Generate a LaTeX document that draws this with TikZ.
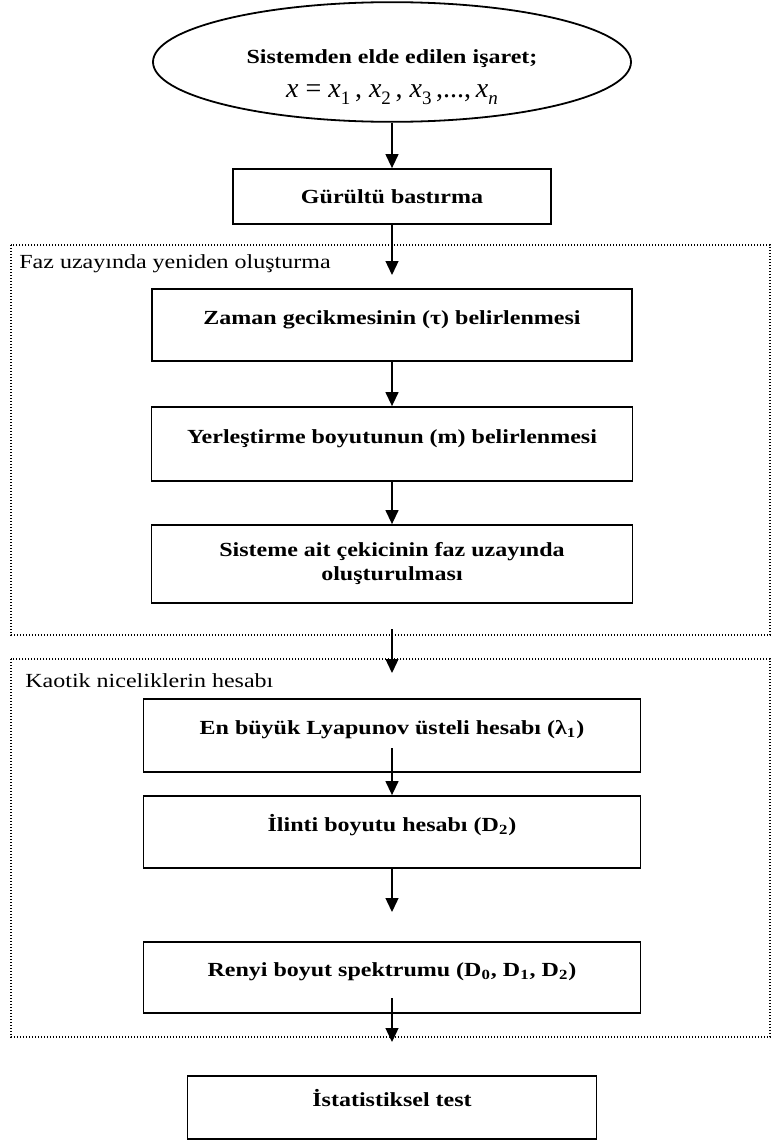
\documentclass[tikz,border=0pt]{standalone}
\usepackage{fontspec}
\setmainfont{Liberation Serif}[FakeStretch=1.2]
\newfontfamily\eqfont{Liberation Serif}
\usetikzlibrary{shapes.geometric,arrows.meta}

\newcommand{\xsub}[1]{\textit{x}\raisebox{-0.5ex}{\fontsize{9.5}{9.5}\selectfont #1}}

\begin{document}
\begin{tikzpicture}[x=0.5pt,y=-0.5pt,
    box/.style={draw, line width=0.9pt, font=\bfseries, inner sep=0pt},
    oneline/.style={text height=9pt, text depth=10pt},
    frame/.style={line width=0.7pt, dash pattern=on 0.7pt off 0.8pt},
    >={Triangle[length=7pt,width=6.5pt]},
    every edge/.style={draw, line width=0.65pt}]
\useasboundingbox (0,0) rectangle (771,1140);

\draw[frame] (11,245) rectangle (770,635);
\draw[frame] (11,659) rectangle (770,1037);

\node (fazlabel) at (19,268) [anchor=base west, inner sep=0pt] {Faz uzayında yeniden oluşturma};
\node (kaotiklabel) at (25,687) [anchor=base west, inner sep=0pt] {Kaotik niceliklerin hesabı};

\node (signal) at (392,62) [draw, ellipse, line width=0.9pt, minimum width=239pt, minimum height=58.5pt, inner sep=0pt, align=center]
    {\rule{0pt}{22pt}\textbf{Sistemden elde edilen işaret;}\\[5pt]
     {\eqfont\fontsize{14}{16}\selectfont \textit{x} = \xsub{1}\,, \xsub{2}\,, \xsub{3}\,,...,\,\xsub{\textit{n}}}};
\node (noise) at (392,196.5) [box, minimum width=159pt, minimum height=27.5pt] {Gürültü bastırma};
\node (tau) at (392,325) [box, oneline, minimum width=240pt, minimum height=36pt] {Zaman gecikmesinin (τ) belirlenmesi};
\node (embed) at (392,444) [box, oneline, minimum width=240.5pt, minimum height=37pt] {Yerleştirme boyutunun (m) belirlenmesi};
\node (attract) at (392,564) [box, align=center, minimum width=240.5pt, minimum height=39pt] {Sisteme ait çekicinin faz uzayında\\oluşturulması};
\node (lyap) at (392,735.5) [box, oneline, minimum width=248.5pt, minimum height=36.5pt] {En büyük Lyapunov üsteli hesabı (λ\textsubscript{1})};
\node (corr) at (392,832) [box, oneline, minimum width=248.5pt, minimum height=36pt] {İlinti boyutu hesabı (D\textsubscript{2})};
\node (renyi) at (392,977.5) [box, oneline, minimum width=248.5pt, minimum height=35.5pt] {Renyi boyut spektrumu (D\textsubscript{0}, D\textsubscript{1}, D\textsubscript{2})};
\node (stat) at (392,1107.5) [box, oneline, minimum width=204.5pt, minimum height=31.5pt] {İstatistiksel test};

\coordinate (tauin) at (392,275);
\coordinate (attrout) at (392,629);
\coordinate (lyapin) at (392,673);
\coordinate (lyapout) at (392,748);
\coordinate (renyiin) at (392,912);
\coordinate (renyiout) at (392,998);
\coordinate (statin) at (392,1042);

\path[->]
    (signal) edge (noise)
    (noise) edge (tauin)
    (tau) edge (embed)
    (embed) edge (attract)
    (attrout) edge (lyapin)
    (lyapout) edge (corr)
    (corr) edge (renyiin)
    (renyiout) edge (statin);
\end{tikzpicture}
\end{document}
